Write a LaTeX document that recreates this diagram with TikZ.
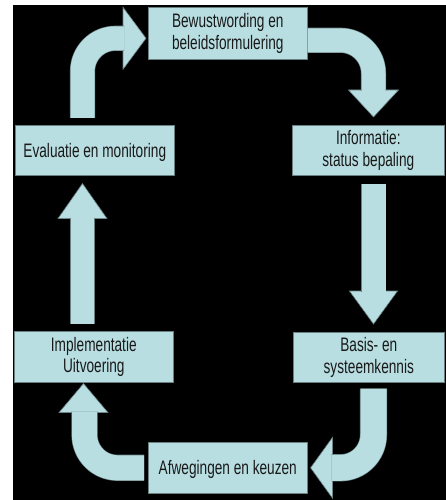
\documentclass[tikz,border=0pt]{standalone}
\usepackage{fontspec}
\setmainfont{Liberation Sans}[FakeStretch=0.70]
\usetikzlibrary{calc}
\definecolor{boxfill}{RGB}{184,222,226}
\definecolor{edge}{RGB}{105,128,131}
\definecolor{ink}{RGB}{25,25,25}

\begin{document}
\begin{tikzpicture}[x=1pt,y=-1pt,
  box/.style={draw=edge, line width=0.6pt, fill=boxfill, text=ink, align=center,
    inner sep=0pt, anchor=north west, font=\fontsize{19.5}{21.5}\selectfont,
    execute at begin node={\rule{0pt}{18pt}}},
  shaft/.style={draw=edge, line width=0.6pt, double=boxfill, double distance=#1,
    rounded corners=33pt},
  head/.style={draw=edge, line width=0.6pt, fill=boxfill, line join=miter}
]
\useasboundingbox (0,0) rectangle (446,500);
\fill[white] (0,0) rectangle (446,500);
\fill[black] (13,5) rectangle (446,500);

% the six stages of the cycle
\node[box, minimum width=159pt, minimum height=52pt] (bew)   at (148,7)   {Bewustwording en\\beleidsformulering};
\node[box, minimum width=159pt, minimum height=50pt] (eval)  at (15,125)  {Evaluatie en monitoring};
\node[box, minimum width=152pt, minimum height=50pt] (info)  at (292,125) {Informatie:\\status bepaling};
\node[box, minimum width=159pt, minimum height=51pt] (impl)  at (14,331)  {Implementatie\\Uitvoering};
\node[box, minimum width=151pt, minimum height=50pt] (basis) at (293,332) {Basis- en\\systeemkennis};
\node[box, minimum width=159pt, minimum height=51pt] (afw)   at (148,442) {Afwegingen en keuzen};

% axes of the vertical arrow columns
\coordinate (axL) at (82.5,0);
\coordinate (axB) at (84.5,0);
\coordinate (axR) at (373.5,0);

% Evaluatie -> Bewustwording (bent, up then right)
\coordinate (a1t) at ($(eval.north -| axL)+(0,-7)$);
\coordinate (a1c) at ($(bew.west -| axL)+(0,5)$);
\coordinate (a1b) at ($(bew.west)+(-25,5)$);
\coordinate (a1p) at ($(bew.west)+(-2,5)$);
\draw[head] ($(a1b)+(0,-31)$) -- (a1p) -- ($(a1b)+(0,31)$) -- cycle;
\draw[shaft=24pt] (a1t) -- (a1c) -- ($(a1b)+(1,0)$);

% Bewustwording -> Informatie (bent, right then down)
\coordinate (a2t) at ($(bew.east)+(0,7)$);
\coordinate (a2c) at ($(bew.east -| axR)+(0,7)$);
\coordinate (a2b) at ($(info.north -| axR)+(0,-35)$);
\coordinate (a2p) at ($(info.north -| axR)+(0,-8)$);
\draw[head] ($(a2b)+(-25,0)$) -- (a2p) -- ($(a2b)+(25,0)$) -- cycle;
\draw[shaft=24pt] (a2t) -- (a2c) -- ($(a2b)+(0,1)$);

% Informatie -> Basis (straight, down)
\coordinate (a3t) at ($(info.south -| axR)+(0,8)$);
\coordinate (a3b) at ($(basis.north -| axR)+(0,-41)$);
\coordinate (a3p) at ($(basis.north -| axR)+(0,-8)$);
\draw[head] ($(a3b)+(-24,0)$) -- (a3p) -- ($(a3b)+(24,0)$) -- cycle;
\draw[shaft=24pt] (a3t) -- ($(a3b)+(0,1)$);

% Basis -> Afwegingen (bent, down then left)
\coordinate (a4t) at ($(basis.south -| axR)+(0,6)$);
\coordinate (a4c) at (afw.east -| axR);
\coordinate (a4b) at ($(afw.east)+(25,0)$);
\coordinate (a4p) at ($(afw.east)+(3,0)$);
\draw[head] ($(a4b)+(0,-30.5)$) -- (a4p) -- ($(a4b)+(0,30.5)$) -- cycle;
\draw[shaft=26pt] (a4t) -- (a4c) -- ($(a4b)+(-1,0)$);

% Afwegingen -> Implementatie (bent, left then up)
\coordinate (a5t) at ($(afw.west)+(-4,0)$);
\coordinate (a5c) at (afw.west -| axB);
\coordinate (a5b) at ($(impl.south -| axB)+(0,30)$);
\coordinate (a5p) at ($(impl.south -| axB)+(-1,1)$);
\draw[head] ($(a5b)+(-25.5,0)$) -- (a5p) -- ($(a5b)+(23.5,0)$) -- cycle;
\draw[shaft=25pt] (a5t) -- (a5c) -- ($(a5b)+(0,-1)$);

% Implementatie -> Evaluatie (straight, up)
\coordinate (a6t) at ($(impl.north -| axL)+(0,-7)$);
\coordinate (a6b) at ($(eval.south -| axL)+(0,43)$);
\coordinate (a6p) at ($(eval.south -| axL)+(0,8)$);
\draw[head] ($(a6b)+(-24.5,0)$) -- (a6p) -- ($(a6b)+(24.5,0)$) -- cycle;
\draw[shaft=23pt] (a6t) -- ($(a6b)+(0,-1)$);
\end{tikzpicture}
\end{document}
